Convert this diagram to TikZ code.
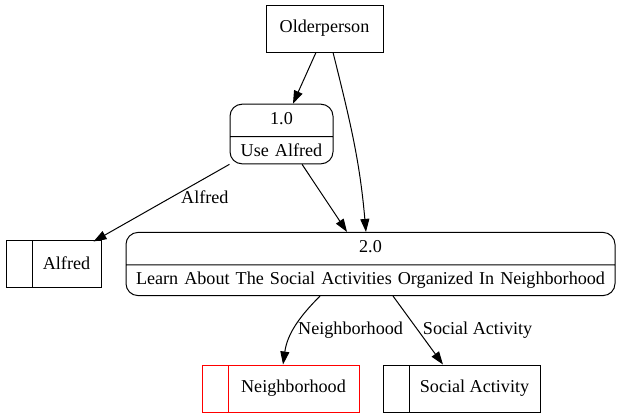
\documentclass[tikz,border=0pt]{standalone}
\usepackage{fontspec}
\setmainfont{Liberation Serif}
\usetikzlibrary{shapes.multipart,arrows.meta}
\begin{document}
\begin{tikzpicture}[x=0.75pt,y=-0.75pt,
  font=\fontsize{13.6pt}{16pt}\selectfont,
  line width=0.75pt,
  entity/.style={rectangle,draw,minimum width=87.75pt,minimum height=35.25pt},
  process/.style={rectangle split,rectangle split parts=2,draw,rounded corners=9pt,
    inner xsep=0pt,inner ysep=5pt,text height=10pt,text depth=3.5pt,align=center},
  store/.style={rectangle,draw,minimum height=35.25pt,
    execute at begin node={\hspace*{19.5pt}},
    path picture={\draw ([xshift=19.5pt]path picture bounding box.north west)
      -- ([xshift=19.5pt]path picture bounding box.south west);}},
  flow/.style={-{Triangle[length=9.75pt,width=6.75pt]}}]
\useasboundingbox (0,0) rectangle (621,419);
\node[entity] (older) at (324.5,28.5) {Olderperson};
\node[process,text width=77.25pt] (p1) at (281.5,134) {1.0\nodepart{two}Use Alfred};
\node[process,text width=366.75pt] (p2) at (370.5,264) {2.0\nodepart{two}Learn About The Social Activities Organized In Neighborhood};
\node[store,minimum width=71.25pt] (alfred) at (53.5,263.5) {Alfred};
\node[store,red,text=black,minimum width=117.75pt] (nbhd) at (280.5,388.5) {Neighborhood};
\node[store,minimum width=117.75pt] (social) at (461.5,388.5) {Social Activity};
\draw[flow] ([xshift=-6.4pt]older.south) -- ([xshift=8.6pt]p1.north);
\draw[flow] ([xshift=6.4pt]older.south) to[out=-76,in=95] ([xshift=-3.4pt]p2.north);
\draw[flow] (p1.south west) -- node[pos=0.25,xshift=7pt,yshift=-10pt] {Alfred} ([xshift=-6pt,yshift=-1.5pt]alfred.north east);
\draw[flow] ([xshift=15.4pt]p1.south) -- ([xshift=-17.6pt]p2.north);
\draw[flow] ([xshift=-37.9pt]p2.south) to[out=-135,in=82] node[pos=0.55,right] {Neighborhood} ([xshift=1.9pt]nbhd.north);
\draw[flow] ([xshift=16.9pt]p2.south) -- node[midway,right] {Social Activity} ([xshift=-13.9pt]social.north);
\end{tikzpicture}
\end{document}
